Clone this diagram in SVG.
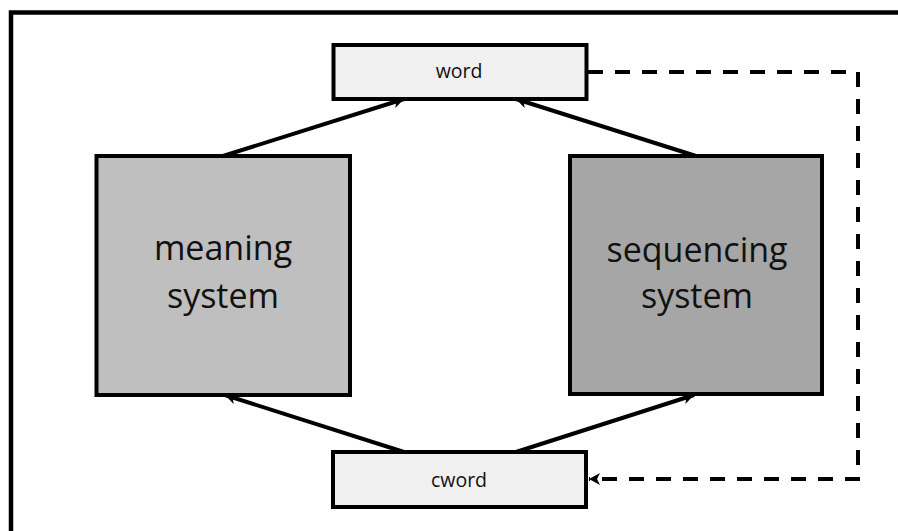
<svg xmlns="http://www.w3.org/2000/svg" width="898" height="531" viewBox="0 0 898 531">
  <style>
    .box { stroke: #000; stroke-width: 4; }
    .big { font-family: "Open Sans", "Liberation Sans", sans-serif; font-size: 34px; fill: #111; text-anchor: middle; }
    .small { font-family: "Open Sans", "Liberation Sans", sans-serif; font-size: 19.5px; fill: #111; text-anchor: middle; }
    .link { fill: none; stroke: #000; stroke-width: 4; }
    .dash { stroke-dasharray: 15 12; }
  </style>
  <defs>
    <marker id="arrow" markerUnits="userSpaceOnUse" markerWidth="14" markerHeight="14" refX="11" refY="6" orient="auto">
      <path d="M0,0 L11,6 L0,12 L3,6 Z" fill="#000"/>
    </marker>
  </defs>

  <!-- frame (runs off the right and bottom edges) -->
  <path d="M11,531 V12.5 H898" fill="none" stroke="#000" stroke-width="4.5"/>

  <g id="connectors">
    <line class="link" x1="223" y1="156" x2="404" y2="99" marker-end="url(#arrow)"/>
    <line class="link" x1="696" y1="156" x2="516" y2="99" marker-end="url(#arrow)"/>
    <line class="link" x1="404" y1="452" x2="225" y2="395" marker-end="url(#arrow)"/>
    <line class="link" x1="516" y1="452" x2="694" y2="395" marker-end="url(#arrow)"/>
    <path class="link dash" d="M588,72 H858 V479 H589" marker-end="url(#arrow)"/>
  </g>

  <g id="word">
    <rect class="box" x="333.5" y="45" width="253" height="54" fill="#f0f0f0"/>
    <text class="small" x="459" y="78">word</text>
  </g>

  <g id="meaning-system">
    <rect class="box" x="96.5" y="156" width="253.5" height="239" fill="#bfbfbf"/>
    <text class="big" x="223" y="260">meaning</text>
    <text class="big" x="223" y="308">system</text>
  </g>

  <g id="sequencing-system">
    <rect class="box" x="570" y="156" width="252" height="238" fill="#a6a6a6"/>
    <text class="big" x="697" y="262">sequencing</text>
    <text class="big" x="697" y="308">system</text>
  </g>

  <g id="cword">
    <rect class="box" x="333" y="452" width="253" height="55" fill="#f0f0f0"/>
    <text class="small" x="459" y="487">cword</text>
  </g>
</svg>
